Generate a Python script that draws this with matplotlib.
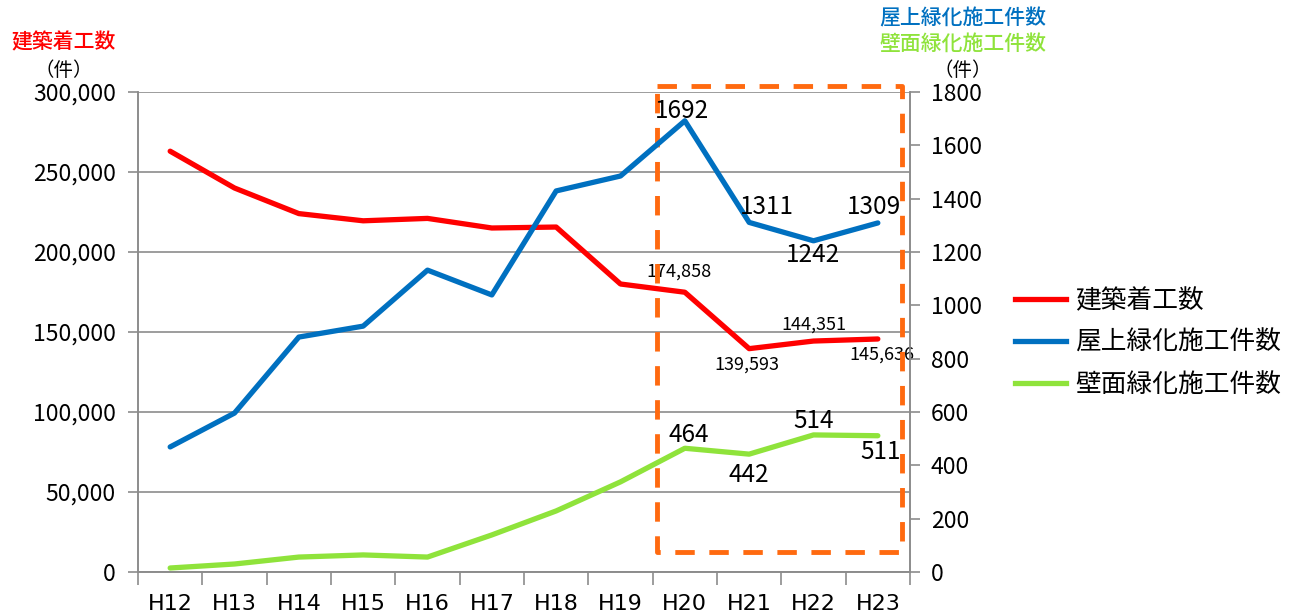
import matplotlib
matplotlib.use("Agg")
import matplotlib.pyplot as plt
from matplotlib.lines import Line2D

plt.rcParams['font.family'] = ['Noto Sans CJK JP', 'DejaVu Sans']

years = ["H12", "H13", "H14", "H15", "H16", "H17", "H18", "H19", "H20", "H21", "H22", "H23"]
construction = [263000, 240000, 224000, 219500, 221000, 215000, 215600, 180000, 174858, 139593, 144351, 145636]
roof_green = [469, 596, 881, 922, 1132, 1039, 1429, 1485, 1692, 1311, 1242, 1309]
wall_green = [15, 30, 56, 64, 56, 139, 229, 338, 464, 442, 514, 511]

left_ticks = [0, 50000, 100000, 150000, 200000, 250000, 300000]
right_ticks = [0, 200, 400, 600, 800, 1000, 1200, 1400, 1600, 1800]

RED = "#FF0000"
BLUE = "#0070C0"
GREEN = "#8FE33B"
ORANGE = "#FF6A10"

fig = plt.figure(figsize=(12.9, 6.16), dpi=100)
ax = fig.add_axes([138/1290, 1-572/616, (910-138)/1290, (572-92)/616])
ax2 = ax.twinx()

x = list(range(len(years)))
ax.plot(x, construction, color=RED, lw=3.8, zorder=3, solid_capstyle='round')
ax2.plot(x, roof_green, color=BLUE, lw=3.8, zorder=3, solid_capstyle='round')
ax2.plot(x, wall_green, color=GREEN, lw=3.8, zorder=3, solid_capstyle='round')

tick_font = 16.5
ax.set_xlim(-0.5, 11.5)
ax.set_ylim(0, 300000)
ax2.set_ylim(0, 1800)
ax.set_yticks(left_ticks)
ax.set_yticklabels([f"{v:,}" for v in left_ticks], fontsize=tick_font)
ax2.set_yticks(right_ticks)
ax2.set_yticklabels([str(v) for v in right_ticks], fontsize=tick_font)
ax.yaxis.grid(True, color="#8c8c8c", lw=1.2)
ax.set_axisbelow(True)

ax.set_xticks(x)
ax.set_xticklabels(years, fontsize=16, family=['Liberation Sans Narrow', 'DejaVu Sans'])
ax.tick_params(axis='x', length=0, pad=16)
ax.set_xticks([i - 0.5 for i in range(len(years) + 1)], minor=True)
ax.tick_params(axis='x', which='minor', length=9, color="#8c8c8c", width=1.2)
ax.tick_params(axis='y', length=7, color="#8c8c8c", width=1.2, pad=9)
ax2.tick_params(axis='y', length=7, color="#8c8c8c", width=1.2, pad=8)

for a in (ax, ax2):
    a.spines['top'].set_visible(False)
    for s in ('left', 'right', 'bottom'):
        a.spines[s].set_color("#8c8c8c")
        a.spines[s].set_linewidth(1.2)

# data labels
lab_big = 17.5
lab_small = 13
ax.annotate(f"{construction[8]:,}", (8, construction[8]), xytext=(-4, 8), textcoords='offset points', ha='center', va='bottom', fontsize=lab_small)
ax.annotate(f"{construction[9]:,}", (9, construction[9]), xytext=(-2, -5), textcoords='offset points', ha='center', va='top', fontsize=lab_small)
ax.annotate(f"{construction[10]:,}", (10, construction[10]), xytext=(0, 5), textcoords='offset points', ha='center', va='bottom', fontsize=lab_small)
ax.annotate(f"{construction[11]:,}", (11, construction[11]), xytext=(3, -5), textcoords='offset points', ha='center', va='top', fontsize=lab_small)

ax2.annotate(str(roof_green[8]), (8, roof_green[8]), xytext=(-2, -2), textcoords='offset points', ha='center', va='bottom', fontsize=lab_big)
ax2.annotate(str(roof_green[9]), (9, roof_green[9]), xytext=(13, 2), textcoords='offset points', ha='center', va='bottom', fontsize=lab_big)
ax2.annotate(str(roof_green[10]), (10, roof_green[10]), xytext=(0, -1), textcoords='offset points', ha='center', va='top', fontsize=lab_big)
ax2.annotate(str(roof_green[11]), (11, roof_green[11]), xytext=(-3, 2), textcoords='offset points', ha='center', va='bottom', fontsize=lab_big)

ax2.annotate(str(wall_green[8]), (8, wall_green[8]), xytext=(3, 0), textcoords='offset points', ha='center', va='bottom', fontsize=lab_big)
ax2.annotate(str(wall_green[9]), (9, wall_green[9]), xytext=(0, -6), textcoords='offset points', ha='center', va='top', fontsize=lab_big)
ax2.annotate(str(wall_green[10]), (10, wall_green[10]), xytext=(0, 1), textcoords='offset points', ha='center', va='bottom', fontsize=lab_big)
ax2.annotate(str(wall_green[11]), (11, wall_green[11]), xytext=(2, -2), textcoords='offset points', ha='center', va='top', fontsize=lab_big)

# orange dashed highlight box
bx0, bx1 = 7.56, 11.37
by0, by1 = 12500, 303750
ax.plot([bx0, bx1, bx1, bx0, bx0], [by1, by1, by0, by0, by1], color=ORANGE, lw=3.5,
        ls=(0, (4, 3)), clip_on=False, zorder=5)

# axis titles
fig.text(64/1290, 1-42/616, "建築着工数", color=RED, fontsize=15, ha='center', va='center', weight='medium')
fig.text(64/1290, 1-70/616, "（件）", color="black", fontsize=14, ha='center', va='center')
fig.text(963/1290, 1-18/616, "屋上緑化施工件数", color=BLUE, fontsize=15, ha='center', va='center', weight='medium')
fig.text(963/1290, 1-44/616, "壁面緑化施工件数", color=GREEN, fontsize=15, ha='center', va='center', weight='medium')
fig.text(963/1290, 1-70/616, "（件）", color="black", fontsize=14, ha='center', va='center')

# legend
handles = [Line2D([], [], color=RED, lw=3.8),
           Line2D([], [], color=BLUE, lw=3.8),
           Line2D([], [], color=GREEN, lw=3.8)]
fig.legend(handles, ["建築着工数", "屋上緑化施工件数", "壁面緑化施工件数"],
           loc='center left', bbox_to_anchor=(997/1290, 1-343/616), frameon=False,
           fontsize=18.5, handlelength=2.0, labelspacing=0.62, handletextpad=0.35,
           borderpad=0.2)

fig.savefig("out.png", dpi=100)
